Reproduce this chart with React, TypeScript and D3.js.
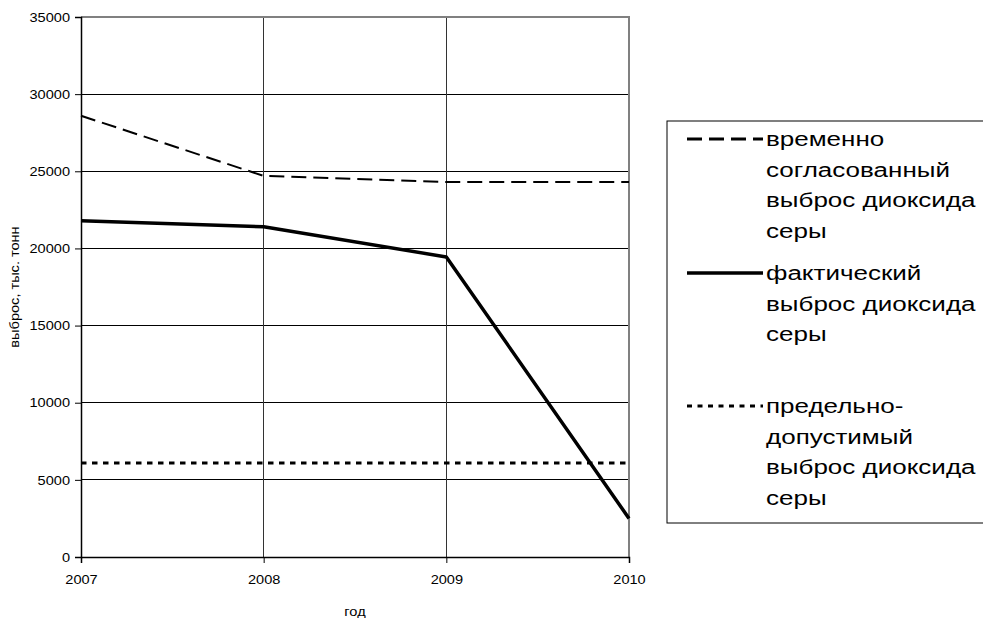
import { useEffect, useRef } from 'react';
import * as d3 from 'd3';

const years = [2007, 2008, 2009, 2010];
const agreed = [28600, 24700, 24300, 24300];
const actual = [21800, 21400, 19450, 2500];
const limit = [6100, 6100, 6100, 6100];
const yTicks = [0, 5000, 10000, 15000, 20000, 25000, 30000, 35000];

const legendItems = [
  { lines: ['временно', 'согласованный', 'выброс диоксида', 'серы'], dash: '15,7', width: 3, y: 139 },
  { lines: ['фактический', 'выброс диоксида', 'серы'], dash: null, width: 3.5, y: 273 },
  { lines: ['предельно-', 'допустимый', 'выброс диоксида', 'серы'], dash: '5,5.5', width: 3, y: 406 },
];

// widen text horizontally, the reference glyphs are a bit stretched
const stretch = (sel: d3.Selection<any, any, any, any>, k: number) => {
  sel.each(function () {
    const t = this as SVGTextElement;
    const w = t.getComputedTextLength();
    d3.select(t).attr('textLength', w * k).attr('lengthAdjust', 'spacingAndGlyphs');
  });
};

export default function App() {
  const svgRef = useRef<SVGSVGElement>(null);

  useEffect(() => {
    if (!svgRef.current) return;
    const svg = d3.select(svgRef.current);
    svg.selectAll('*').remove();
    const font = 'Liberation Sans, Arial, sans-serif';

    const x = d3.scaleLinear().domain([2007, 2010]).range([81, 629]);
    const y = d3.scaleLinear().domain([0, 35000]).range([557, 17]);

    // horizontal grid
    svg.append('g').selectAll('line').data(yTicks.slice(1, -1)).enter().append('line')
      .attr('x1', 81).attr('x2', 629).attr('y1', (d) => y(d)).attr('y2', (d) => y(d))
      .attr('stroke', '#000').attr('stroke-width', 1).attr('shape-rendering', 'crispEdges');
    // vertical grid
    svg.append('g').selectAll('line').data(years.slice(1, -1)).enter().append('line')
      .attr('x1', (d) => x(d)).attr('x2', (d) => x(d)).attr('y1', 17).attr('y2', 557)
      .attr('stroke', '#333').attr('stroke-width', 1).attr('shape-rendering', 'crispEdges');
    // plot border (top/right)
    svg.append('path').attr('d', `M81,${y(35000)}H629V557`).attr('fill', 'none')
      .attr('stroke', '#808080').attr('stroke-width', 1.2).attr('shape-rendering', 'crispEdges');

    const yAxis = svg.append('g').attr('transform', 'translate(81,0)')
      .call(d3.axisLeft(y).tickValues(yTicks).tickSize(6).tickPadding(5).tickFormat((d) => String(d)));
    yAxis.select('.domain').attr('stroke', '#000').attr('stroke-width', 1.5);
    yAxis.selectAll('.tick line').attr('stroke', '#000');
    yAxis.selectAll('text').attr('font-family', font).attr('font-size', 13).attr('fill', '#000');
    stretch(yAxis.selectAll('text'), 1.12);

    const xAxis = svg.append('g').attr('transform', 'translate(0,557)')
      .call(d3.axisBottom(x).tickValues(years).tickSize(6).tickPadding(12).tickFormat((d) => String(d)));
    xAxis.select('.domain').attr('stroke', '#000').attr('stroke-width', 1.5);
    xAxis.selectAll('.tick line').attr('stroke', '#000');
    xAxis.selectAll('text').attr('font-family', font).attr('font-size', 13).attr('fill', '#000');
    stretch(xAxis.selectAll('text'), 1.12);

    const xl = svg.append('text').attr('x', 355).attr('y', 616).attr('text-anchor', 'middle')
      .attr('font-family', font).attr('font-size', 13).text('год');
    stretch(xl, 1.12);
    const yl = svg.append('text').attr('transform', 'translate(19,287) rotate(-90)').attr('text-anchor', 'middle')
      .attr('font-family', font).attr('font-size', 13).text('выброс, тыс. тонн');
    stretch(yl, 1.12);

    const line = d3.line<number>().x((_, i) => x(years[i])).y((d) => y(d));
    svg.append('path').datum(agreed).attr('d', line).attr('fill', 'none')
      .attr('stroke', '#000').attr('stroke-width', 2).attr('stroke-dasharray', '15,7');
    svg.append('path').datum(actual).attr('d', line).attr('fill', 'none')
      .attr('stroke', '#000').attr('stroke-width', 3.5).attr('stroke-linejoin', 'round');
    svg.append('path').datum(limit).attr('d', line).attr('fill', 'none')
      .attr('stroke', '#000').attr('stroke-width', 3).attr('stroke-dasharray', '5.5,5.5');

    // legend
    svg.append('rect').attr('x', 667).attr('y', 121).attr('width', 330).attr('height', 402)
      .attr('fill', '#fff').attr('stroke', '#000').attr('stroke-width', 1);
    legendItems.forEach((it) => {
      svg.append('line').attr('x1', 687).attr('x2', 763).attr('y1', it.y).attr('y2', it.y)
        .attr('stroke', '#000').attr('stroke-width', it.width)
        .attr('stroke-dasharray', it.dash ?? null);
      it.lines.forEach((t, i) => {
        const tx = svg.append('text').attr('x', 766).attr('y', it.y + i * 30.7).attr('dy', '0.35em')
          .attr('font-family', font).attr('font-size', 20).attr('fill', '#000').text(t);
        stretch(tx, 1.3);
      });
    });
  }, []);

  return (
    <svg ref={svgRef} width={983} height={618}
      style={{ position: 'absolute', left: 0, top: 0, background: '#fff' }} />
  );
}
